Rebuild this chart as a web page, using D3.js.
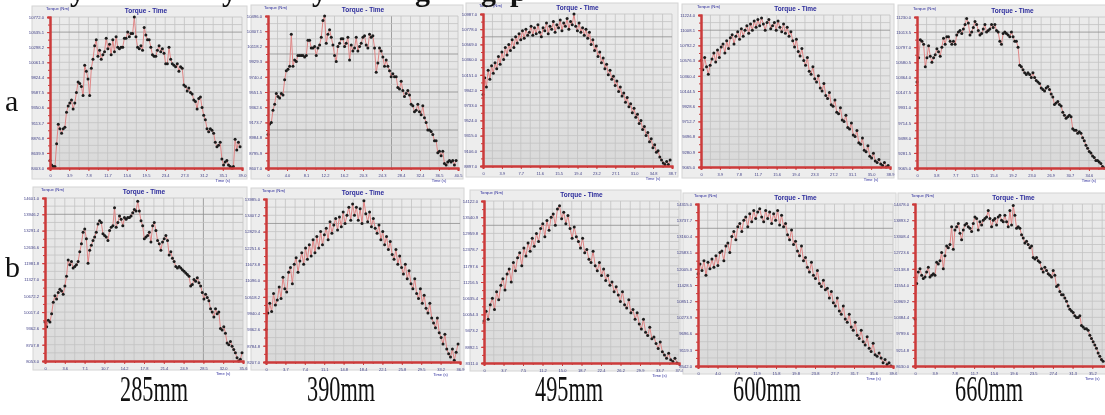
<!DOCTYPE html>
<html>
<head>
<meta charset="utf-8">
<script src="https://cdn.jsdelivr.net/npm/d3@7"></script>
<style>
html,body{margin:0;padding:0;background:#fff;overflow:hidden}
</style>
</head>
<body>
<svg id="fig" width="1105" height="415"></svg>
<script>
// torque readings, % of each panel's full scale, one array per run
const A285 = [5,2,1,1,16,29,26,23,26,27,37,41,43,45,39,43,50,57,56,54,48,68,64,59,48,66,72,81,85,74,78,72,75,77,86,79,82,75,85,77,87,80,79,80,80,86,86,90,87,89,89,100,87,80,79,81,78,93,88,85,85,80,75,74,74,78,81,77,79,76,69,69,80,72,69,68,67,69,64,67,66,55,54,51,53,50,49,45,44,39,46,47,40,35,32,26,24,26,25,23,17,14,15,17,6,2,4,5,2,1,0,1,19,12,17,14];
const A390 = [22,29,30,38,42,49,47,46,49,48,58,64,65,67,88,67,71,70,74,74,74,74,73,74,84,84,79,79,80,74,79,81,86,97,100,82,88,91,86,81,74,70,80,82,85,85,80,82,86,71,81,77,79,86,77,80,82,86,87,81,79,88,86,87,79,63,69,79,77,73,67,71,67,64,60,62,60,60,53,52,57,51,47,49,51,48,42,41,37,38,42,37,35,41,33,30,25,25,24,22,18,18,10,11,8,11,3,2,4,5,4,5,2,5];
const A495 = [47,58,52,63,57,66,61,68,64,72,67,75,70,78,73,80,76,83,78,85,81,87,83,89,84,90,86,88,92,86,91,87,93,88,85,91,89,94,87,92,90,95,88,93,91,96,89,94,92,97,90,95,93,100,92,89,94,88,91,86,90,84,88,80,83,76,79,72,75,68,71,64,67,60,63,57,59,53,56,49,52,46,48,42,45,39,41,35,38,32,34,28,30,24,26,20,22,16,18,12,14,9,10,6,4,2,1,3,1,4];
const A600 = [70,64,72,66,61,67,71,75,69,77,72,79,81,75,83,78,85,87,81,86,89,84,91,86,90,93,88,94,90,96,92,97,93,98,94,90,95,97,91,93,95,90,96,92,89,94,88,92,86,89,83,79,84,76,73,78,70,67,72,63,61,66,58,56,60,52,50,55,47,45,49,41,40,44,36,35,39,31,30,34,26,25,29,21,20,24,16,15,19,11,10,14,7,6,9,4,3,5,2,1,3,0,1];
const A660 = [57,73,85,84,82,67,73,81,74,70,73,75,79,77,74,80,86,82,87,87,84,82,84,82,88,90,91,89,92,95,99,96,88,90,93,97,95,91,88,89,92,95,90,91,92,95,93,95,91,90,84,82,89,90,89,88,87,90,87,84,84,80,68,67,65,63,62,63,62,60,63,60,58,57,56,53,52,51,53,54,52,49,47,42,43,44,42,41,37,35,33,34,35,34,26,25,25,23,24,23,20,18,15,13,11,10,8,7,5,5,4,3,1,0];

const B285 = [24,21,25,24,29,36,40,38,42,44,43,41,46,52,62,59,61,57,58,59,61,67,72,79,81,75,60,68,71,74,76,79,84,86,85,78,77,76,74,80,82,83,94,82,85,89,87,83,88,87,88,88,89,91,93,92,98,92,86,83,75,76,77,79,73,83,85,80,74,72,68,73,75,77,74,65,67,63,61,58,57,58,57,56,55,54,53,52,46,47,50,49,51,48,46,42,38,41,39,37,32,30,27,32,29,30,20,19,21,17,11,10,12,9,7,5,2,0,1,5];
const B390 = [20,30,36,31,42,35,38,46,39,52,45,43,55,58,48,60,64,55,62,67,60,70,63,72,65,75,67,77,70,80,72,78,82,75,86,79,84,88,81,89,83,92,85,90,95,87,97,90,95,87,94,85,99,91,86,92,83,88,82,79,84,75,80,72,77,69,74,66,63,69,60,65,58,54,60,51,56,48,45,51,42,39,45,36,41,33,30,36,27,24,21,27,18,15,11,17,8,5,3,8,1,6,11];
const B495 = [26,32,27,36,40,33,44,39,48,52,45,55,58,50,62,57,65,68,60,71,66,74,69,77,72,80,75,83,86,78,88,82,90,92,85,95,97,89,93,86,91,83,77,84,78,75,71,77,68,70,64,62,69,60,57,62,54,58,51,54,48,50,44,47,42,38,44,36,34,39,31,33,27,31,24,21,27,19,17,22,15,16,12,9,13,7,5,3,6,2,1,3,0];
const B600 = [57,63,59,65,56,64,60,66,61,68,62,70,71,65,74,76,70,80,83,78,86,88,83,90,92,86,94,89,96,91,95,97,92,89,96,91,95,88,94,90,96,87,93,86,88,81,78,84,75,77,71,68,74,65,67,61,58,64,56,54,59,51,49,53,47,48,42,46,39,37,42,34,32,37,29,27,32,24,22,27,19,17,22,15,13,18,11,9,14,7,6,8,5,2,4,1,2,0];
const B660 = [29,51,58,60,56,54,55,58,61,55,56,57,56,64,63,65,70,60,68,74,73,75,86,72,84,86,88,82,78,84,87,88,86,85,83,88,92,91,84,89,87,90,91,92,96,91,86,90,91,87,92,93,90,89,93,89,86,96,87,99,93,85,86,85,81,79,76,77,75,73,74,67,66,67,65,64,60,58,61,59,57,56,55,59,56,49,50,46,44,44,42,40,37,35,34,33,31,30,30,31,25,24,23,23,22,19,17,15,13,11,8,6,4,3];

const ROW_LABELS = ["a", "b"];
const LENGTHS = ["285mm", "390mm", "495mm", "600mm", "660mm"];
// full-scale torque (Nm) and run time (s) per panel
const Y_MIN = [8403.0, 8607.0, 8897.0, 9065.0, 9065.0, 8053.0, 8207.0, 8311.0, 8542.0, 8630.0];
const Y_MAX = [10772.0, 10496.0, 10987.0, 11224.0, 11230.0, 14601.0, 13985.0, 14122.0, 14315.0, 14478.0];
const T_MAX = [39.0, 40.5, 38.7, 38.9, 38.4, 35.6, 36.9, 37.4, 39.6, 39.1];

const SERIES = [A285, A390, A495, A600, A660, B285, B390, B495, B600, B660];

// layout: outer box [x,y,w,h], plot [left,top,right,bottom], fraction of axis the run covers
const PANELS = [
  {box:[32,6,215,173],   plot:[50,17,242,168],   span:0.99,  hMaj:[2],       vMaj:[]},
  {box:[251,5,212,174],  plot:[268,16,458,168],  span:0.99,  hMaj:[5,10,15], vMaj:[13]},
  {box:[466,3,212,174],  plot:[483,14,672,166],  span:0.99,  hMaj:[3],       vMaj:[]},
  {box:[682,4,212,174],  plot:[701,15,890,167],  span:0.99,  hMaj:[2],       vMaj:[]},
  {box:[898,5,215,174],  plot:[917,17,1108,168], span:0.98,  hMaj:[2],       vMaj:[]},
  {box:[33,187,214,183], plot:[45,198,243,361],  span:0.995, hMaj:[2],       vMaj:[16]},
  {box:[251,188,213,182],plot:[266,199,460,362], span:0.99,  hMaj:[3],       vMaj:[]},
  {box:[470,190,211,181],plot:[484,201,679,363], span:0.99,  hMaj:[3],       vMaj:[]},
  {box:[683,193,213,181],plot:[698,204,893,366], span:0.99,  hMaj:[3],       vMaj:[]},
  {box:[898,193,215,181],plot:[915,204,1112,366],span:0.955, hMaj:[],        vMaj:[]}
];

const svg = d3.select("#fig");
const defs = svg.append("defs");
const grad = defs.append("linearGradient").attr("id", "bg")
  .attr("x1", 0).attr("y1", 0).attr("x2", 0).attr("y2", 1);
grad.append("stop").attr("offset", "0%").attr("stop-color", "#ebebeb");
grad.append("stop").attr("offset", "100%").attr("stop-color", "#d9d9d9");
defs.append("filter").attr("id", "soft")
  .append("feGaussianBlur").attr("stdDeviation", 0.3);

const RED = "#cc3a3a";
const BLUE = "#2d2d9c";
const SANS = "Liberation Sans, Arial, sans-serif";

function drawPanel(p, k) {
  const vals = SERIES[k];
  const tMax = T_MAX[k];
  const [l, t, r, b] = p.plot;
  const g = svg.append("g").attr("filter", "url(#soft)");

  g.append("rect")
    .attr("x", p.box[0]).attr("y", p.box[1])
    .attr("width", p.box[2]).attr("height", p.box[3])
    .attr("fill", "#ededed").attr("stroke", "#d4d4d4");

  const x = d3.scaleLinear().domain([0, tMax]).range([l, r]);
  const y = d3.scaleLinear().domain([0, 100]).range([b, t]);

  g.append("rect").attr("x", l).attr("y", t)
    .attr("width", r - l).attr("height", b - t).attr("fill", "url(#bg)");

  // grid: 20 steps each way
  g.selectAll(".vg").data(d3.range(1, 21)).join("line")
    .attr("x1", i => x(tMax * i / 20)).attr("x2", i => x(tMax * i / 20))
    .attr("y1", t).attr("y2", b)
    .attr("stroke", i => p.vMaj.includes(i) ? "#8e8e8e" : "#c3c3c3")
    .attr("stroke-width", 0.8);
  g.selectAll(".hg").data(d3.range(0, 20)).join("line")
    .attr("x1", l).attr("x2", r)
    .attr("y1", i => y(100 - i * 5)).attr("y2", i => y(100 - i * 5))
    .attr("stroke", i => p.hMaj.includes(i) ? "#8e8e8e" : "#c3c3c3")
    .attr("stroke-width", 0.8);

  // data
  const dt = p.span * tMax / (vals.length - 1);
  const pts = vals.map((v, i) => [i * dt, v]);
  g.append("path").datum(pts)
    .attr("fill", "none").attr("stroke", "#e08686").attr("stroke-width", 1)
    .attr("d", d3.line().x(d => x(d[0])).y(d => y(d[1])));
  g.selectAll(".pt").data(pts).join("circle")
    .attr("cx", d => x(d[0])).attr("cy", d => y(d[1]))
    .attr("r", 1.5).attr("fill", "#1c1c1c");

  // axes
  const fmt = d3.format(".1f");
  const yAxis = d3.axisLeft(y).tickValues(d3.range(0, 101, 10)).tickSize(3)
    .tickFormat(v => fmt(Y_MIN[k] + (Y_MAX[k] - Y_MIN[k]) * v / 100));
  const xAxis = d3.axisBottom(x).tickValues(d3.range(0, 11).map(i => tMax * i / 10)).tickSize(3)
    .tickFormat((v, i) => x(v) > 1097 ? "" : (i === 0 ? "0" : fmt(v)));
  const minorY = d3.axisLeft(y).tickValues(d3.range(0, 101, 5)).tickSize(2).tickFormat("");
  const minorX = d3.axisBottom(x).tickValues(d3.range(0, 21).map(i => tMax * i / 20)).tickSize(2).tickFormat("");

  [[minorY, "l"], [yAxis, "l"], [minorX, "b"], [xAxis, "b"]].forEach(([ax, side]) => {
    const a = g.append("g")
      .attr("transform", side === "l" ? `translate(${l},0)` : `translate(0,${b})`)
      .call(ax);
    a.select(".domain").attr("stroke", RED).attr("stroke-width", 2);
    a.selectAll(".tick line").attr("stroke", RED).attr("stroke-width", 1);
    a.selectAll(".tick text").attr("fill", "#3d3d85")
      .attr("font-family", SANS).attr("font-size", side === "l" ? 4.2 : 4);
  });

  g.append("text").attr("x", (l + r) / 2).attr("y", t - 4)
    .attr("text-anchor", "middle").attr("fill", BLUE)
    .attr("font-family", SANS).attr("font-weight", "bold").attr("font-size", 6.5)
    .text("Torque - Time");
  g.append("text").attr("x", l - 4).attr("y", t - 7)
    .attr("fill", BLUE).attr("font-family", SANS)
    .attr("font-size", 4.2).text("Torque (Nm)");
  g.append("text").attr("x", x(tMax * 0.9)).attr("y", b + 14)
    .attr("text-anchor", "middle").attr("fill", BLUE)
    .attr("font-family", SANS).attr("font-size", 4).text("Time (s)");
}

PANELS.forEach(drawPanel);

// row letters
svg.selectAll(".row").data(ROW_LABELS).join("text")
  .attr("x", 5).attr("y", (d, i) => [111, 277][i])
  .attr("font-family", "Liberation Serif, Times New Roman, serif")
  .attr("font-size", 30).attr("fill", "#111").text(d => d);

// length captions
const capX = [120, 307, 535, 733, 955];
svg.selectAll(".cap").data(LENGTHS).join("text")
  .attr("x", (d, i) => capX[i]).attr("y", 401)
  .attr("textLength", 68).attr("lengthAdjust", "spacingAndGlyphs")
  .attr("font-family", "Liberation Serif, Times New Roman, serif")
  .attr("font-size", 35).attr("fill", "#111").text(d => d);

// cut-off heading line above the figure (only the lower part shows)
const headBits = [["y", 70], ["y", 222], ["y", 312], ["g", 415], ["g", 481], ["p", 510]];
svg.selectAll(".hd").data(headBits).join("text")
  .attr("x", d => d[1]).attr("y", 0.5)
  .attr("font-family", "Liberation Serif, Times New Roman, serif")
  .attr("font-weight", "bold").attr("font-size", 30).attr("fill", "#111")
  .text(d => d[0]);
</script>
</body>
</html>
